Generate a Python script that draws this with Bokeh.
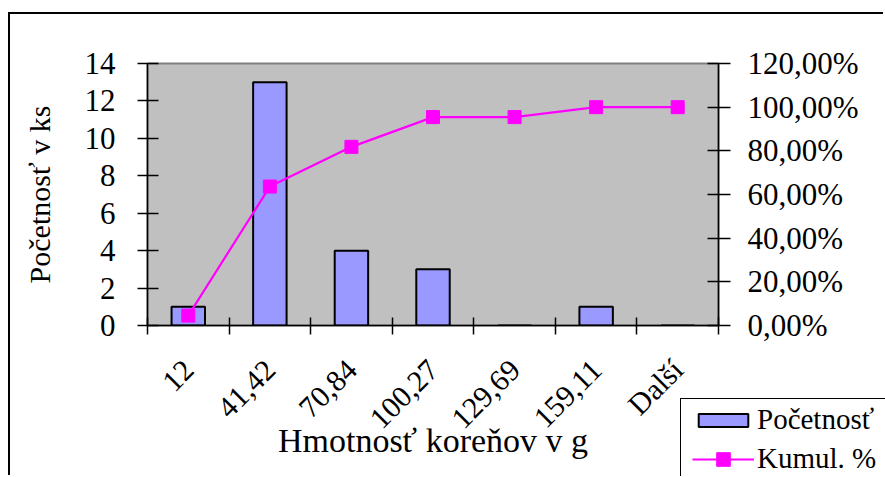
import math
from bokeh.plotting import figure
from bokeh.layouts import column
from bokeh.models import (Range1d, LinearAxis, FixedTicker, Legend, LegendItem)
from bokeh.embed import file_html
from bokeh.resources import INLINE

# ---- data ----
categories = ["12", "41,42", "70,84", "100,27", "129,69", "159,11", "Další"]
counts = [1, 13, 4, 3, 0, 1, 0]
cumulative = [0.0455, 0.6364, 0.8182, 0.9545, 0.9545, 1.0, 1.0]
left_ticks = [0, 2, 4, 6, 8, 10, 12, 14]
right_ticks = [0, 0.2, 0.4, 0.6, 0.8, 1.0, 1.2]
right_tick_labels = ["0,00%", "20,00%", "40,00%", "60,00%", "80,00%", "100,00%", "120,00%"]
x_title = "Hmotnosť koreňov v g"
y_title = "Početnosť v ks"
legend_labels = ["Početnosť", "Kumul. %"]

FONT = "Liberation Serif"
BAR_FILL = "#9999FF"
LINE_COL = "#FF00FF"

xs = [i + 0.5 for i in range(len(categories))]
boundaries = list(range(len(categories) + 1))

# ---------------- main chart ----------------
p = figure(width=875, height=463, x_range=Range1d(0, len(categories)),
           y_range=Range1d(0, 14), output_backend="svg", toolbar_location=None,
           min_border_left=137, min_border_right=167, min_border_top=49,
           min_border_bottom=152)
p.styles = {"margin-left": "8px", "margin-top": "12px",
            "border-left": "2px solid black", "border-top": "2px solid black"}
p.background_fill_color = "#C0C0C0"
p.border_fill_color = "white"
p.outline_line_color = "#808080"
p.outline_line_width = 2
p.xgrid.visible = False
p.ygrid.visible = False

p.extra_y_ranges = {"pct": Range1d(0, 1.2)}

bars = p.vbar(x=xs, top=counts, width=0.41, fill_color=BAR_FILL,
              line_color="black", line_width=2)
p.line(xs, cumulative, y_range_name="pct", line_color=LINE_COL, line_width=2.2)
p.scatter(xs, cumulative, y_range_name="pct", marker="square", size=13,
          fill_color=LINE_COL, line_color=LINE_COL)

# x axis
xa = p.xaxis[0]
xa.ticker = FixedTicker(ticks=xs, minor_ticks=boundaries)
xa.major_label_overrides = {x: c for x, c in zip(xs, categories)}
xa.major_label_orientation = math.pi / 4
xa.major_tick_in = 0
xa.major_tick_out = 0
xa.minor_tick_in = 8
xa.minor_tick_out = 9
xa.minor_tick_line_color = "black"
xa.minor_tick_line_width = 1.5
xa.axis_line_color = "black"
xa.axis_line_width = 1.5
xa.major_label_text_font = FONT
xa.major_label_text_font_size = "30px"
xa.major_label_text_color = "black"
xa.major_label_standoff = 30
xa.axis_label = x_title
xa.axis_label_text_font = FONT
xa.axis_label_text_font_size = "34px"
xa.axis_label_text_font_style = "normal"
xa.axis_label_text_color = "black"
xa.axis_label_standoff = -27

# left axis
ya = p.yaxis[0]
ya.ticker = FixedTicker(ticks=left_ticks)
ya.major_tick_in = 11
ya.major_tick_out = 10
ya.minor_tick_line_color = None
ya.major_tick_line_color = "black"
ya.major_tick_line_width = 1.5
ya.axis_line_color = "black"
ya.axis_line_width = 1.5
ya.major_label_text_font = FONT
ya.major_label_text_font_size = "31px"
ya.major_label_text_color = "black"
ya.major_label_standoff = 22
ya.axis_label = y_title
ya.axis_label_text_font = FONT
ya.axis_label_text_font_size = "30px"
ya.axis_label_text_font_style = "normal"
ya.axis_label_text_color = "black"
ya.axis_label_standoff = 26

# right axis
ra = LinearAxis(y_range_name="pct", ticker=FixedTicker(ticks=right_ticks))
ra.major_label_overrides = {t: l for t, l in zip(right_ticks, right_tick_labels)}
ra.major_tick_in = 11
ra.major_tick_out = 12
ra.minor_tick_line_color = None
ra.major_tick_line_color = "black"
ra.major_tick_line_width = 1.5
ra.axis_line_color = "black"
ra.axis_line_width = 1.5
ra.major_label_text_font = FONT
ra.major_label_text_font_size = "31px"
ra.major_label_text_color = "black"
ra.major_label_standoff = 17
p.add_layout(ra, "right")

# ---------------- legend box (overlaid) ----------------
q = figure(frame_width=205, frame_height=77, x_range=Range1d(0, 1), y_range=Range1d(0, 1),
           output_backend="svg", toolbar_location=None, min_border=0,
           x_axis_location=None, y_axis_location=None)
q.styles = {"margin-top": "-77px", "margin-left": "680px",
            "border-left": "1px solid black", "border-top": "1px solid black"}
q.xgrid.visible = False
q.ygrid.visible = False
q.outline_line_color = None
q.background_fill_color = "white"
q.border_fill_color = "white"

# legend swatches (data kept outside the visible range; only the legend shows them)
lb = q.vbar(x=[5], top=[1], width=0.4, fill_color=BAR_FILL, line_color="black", line_width=2)
ll = q.line([5, 6], [0.5, 0.5], line_color=LINE_COL, line_width=2)
lm = q.scatter([5], [0.5], marker="square", size=13, fill_color=LINE_COL, line_color=LINE_COL)

legA = Legend(items=[LegendItem(label=legend_labels[0], renderers=[lb]),
                     LegendItem(label=legend_labels[1], renderers=[ll])],
              location=(11, 2), orientation="vertical",
              border_line_color=None, background_fill_alpha=0,
              padding=0, spacing=6, margin=0, glyph_width=62, glyph_height=16,
              label_height=30, label_standoff=3, label_text_font=FONT,
              label_text_font_size="29px", label_text_color="black")
q.add_layout(legA, "center")

legB = Legend(items=[LegendItem(label=" ", renderers=[lm])],
              location=(25, 1), border_line_color=None,
              background_fill_alpha=0, padding=0, margin=0, spacing=0,
              glyph_width=34, glyph_height=34, label_height=8,
              label_text_font_size="8px")
q.add_layout(legB, "center")

root = column(p, q)
open("out.html", "w").write(file_html(root, INLINE))
